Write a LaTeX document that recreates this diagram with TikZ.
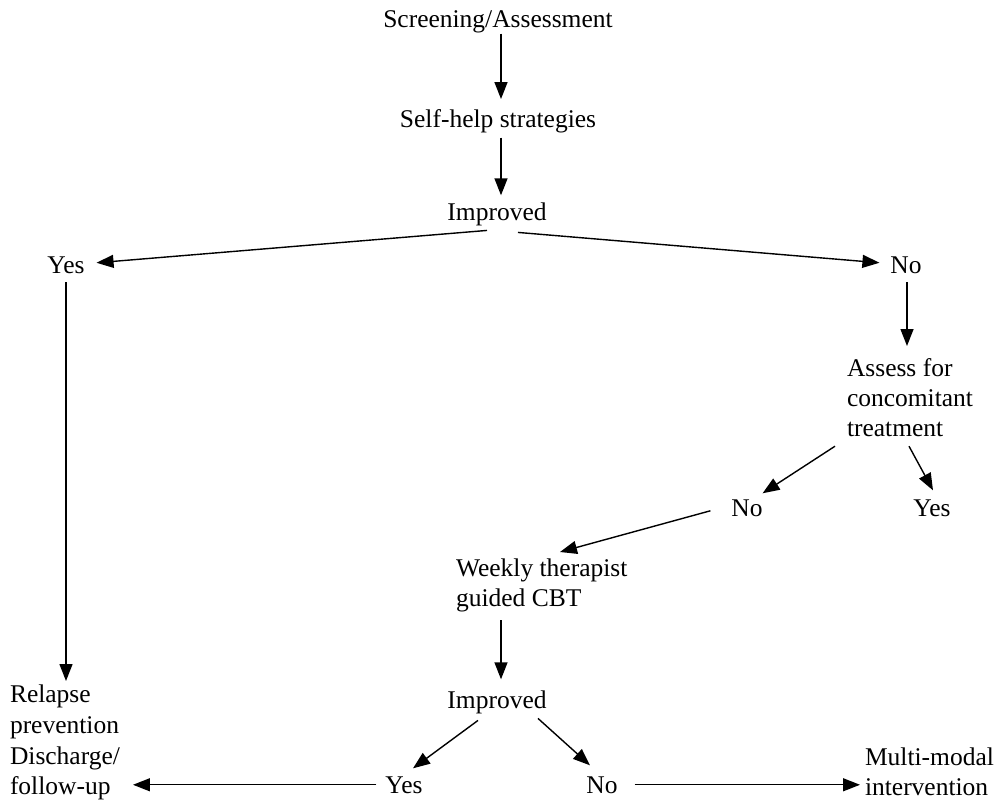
\documentclass[tikz,border=0pt]{standalone}
\usepackage{fontspec}
\setmainfont{Liberation Serif}
\usetikzlibrary{arrows.meta,calc}
\begin{document}
\begin{tikzpicture}[x=1pt,y=-1pt,
  lbl/.style={inner sep=0pt,outer sep=0pt,font=\fontsize{25.5}{30}\selectfont},
  ml/.style={lbl,align=left,anchor=north west},
  arr/.style={line width=1.4pt,-{Triangle[length=17pt,width=13pt]}},
  ln/.style={line width=1.4pt}]
\useasboundingbox (0,0) rectangle (1002,800);
\node[lbl,anchor=base] (s1) at (498,28) {Screening/Assessment};
\node[lbl,anchor=base] (s2) at (498,127) {Self-help strategies};
\node[lbl,anchor=base] (imp1) at (497,220) {Improved};
\node[lbl,anchor=base] (yes1) at (66,273) {Yes};
\node[lbl,anchor=base] (no1) at (906,273) {No};
\node[ml] (assess) at (847,359) {Assess for\\concomitant\\treatment};
\node[lbl,anchor=base] (no2) at (747,516) {No};
\node[lbl,anchor=base] (yes2) at (932,516) {Yes};
\node[ml] (weekly) at (456,559) {Weekly therapist\\guided CBT};
\node[lbl,anchor=base] (imp2) at (497,708) {Improved};
\node[lbl,anchor=base] (yes3) at (404,793) {Yes};
\node[lbl,anchor=base] (no3) at (602,793) {No};
\node[ml,font=\fontsize{25.5}{30.7}\selectfont] (relapse) at (10,685) {Relapse\\prevention\\Discharge/\\follow-up};
\node[ml] (multi) at (865,748) {Multi-modal\\intervention};

\draw[arr] ([shift={(3,0)}]s1.south) -- ([shift={(3,-10)}]s2.north);
\draw[arr] ([shift={(3,5)}]s2.south) -- ([shift={(4,-7)}]imp1.north);
\draw[arr] ([shift={(-10,5)}]imp1.south) -- ([shift={(12,-2)}]yes1.east);
\draw[arr] ([shift={(21,7)}]imp1.south) -- ([shift={(-11,-2)}]no1.west);
\draw[arr] ([shift={(0,9)}]yes1.south) -- ($(yes1.south |- relapse.north)+(0,-4)$);
\draw[arr] ([shift={(1,9)}]no1.south) -- ($(no1.south |- assess.north)+(1,-13)$);
\draw[arr] ([shift={(-12,9)}]assess.south west) -- ([shift={(0,-6)}]no2.north east);
\draw[arr] ([shift={(62,9)}]assess.south west) -- ([shift={(1,-9)}]yes2.north);
\draw[arr] ([shift={(-21,3)}]no2.west) -- ([shift={(104,-7)}]weekly.north west);
\draw[arr] ($(imp2.north |- weekly.south)+(4,8)$) -- ([shift={(4,-11)}]imp2.north);
\draw[arr] ([shift={(-19,7)}]imp2.south) -- ([shift={(9,-8)}]yes3.north);
\draw[arr] ([shift={(41,5)}]imp2.south) -- ([shift={(-12,-11)}]no3.north);
\draw[arr] ([shift={(-9,0)}]yes3.west) -- ($(relapse.east |- yes3.west)+(13,0)$);
\draw[arr] ([shift={(17,0)}]no3.east) -- ($(multi.west |- no3.east)+(-5,0)$);
\end{tikzpicture}
\end{document}
